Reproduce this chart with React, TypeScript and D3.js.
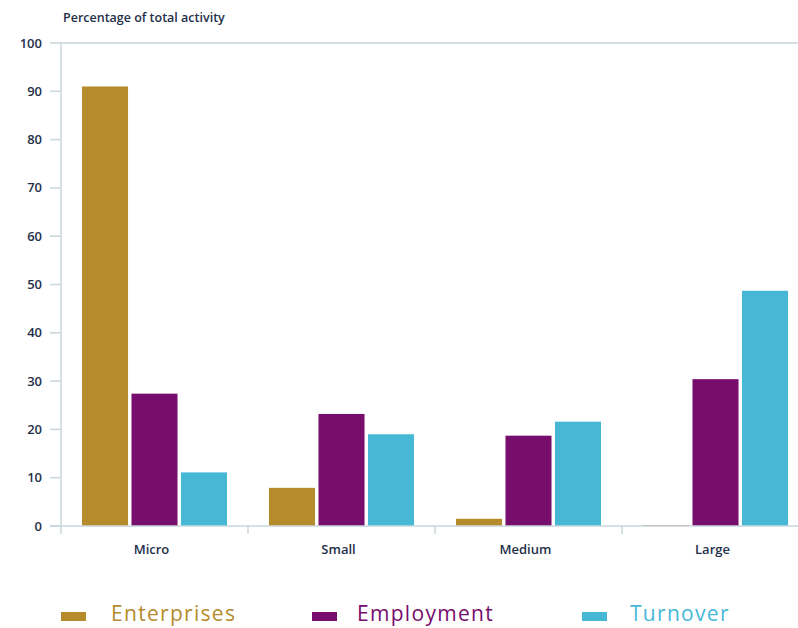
import React from "react";
import * as d3 from "d3";

const categories = ["Micro", "Small", "Medium", "Large"];
const seriesNames = ["Enterprises", "Employment", "Turnover"];
const enterprises = [91, 7.9, 1.5, 0.2];
const employment = [27.4, 23.2, 18.7, 30.4];
const turnover = [11.1, 19.0, 21.6, 48.7];
const yTicks = [0, 10, 20, 30, 40, 50, 60, 70, 80, 90, 100];
const colors = ["#b58b2c", "#770d6c", "#46b8d6"];

export default function App() {
  const W = 798, H = 628;
  const left = 61, right = 809, top = 43, bottom = 526;
  const series = [enterprises, employment, turnover];
  const x = d3.scaleBand<string>().domain(categories).range([left, right]);
  const inner = d3.scaleBand<string>().domain(seriesNames).range([21, x.bandwidth() - 21]).paddingInner(0.07);
  const y = d3.scaleLinear().domain([0, 100]).range([bottom, top]);
  const axisColor = "#c9d7de";
  const textColor = "#243049";
  const font = "'Open Sans', 'Noto Sans', sans-serif";
  const legendX = [61, 312, 582];
  const legendTextX = [111, 357, 630];
  return (
    <svg width={W} height={H} style={{ position: "absolute", left: 0, top: 0, background: "#fff" }} fontFamily={font}>
      <text x={63} y={22} fontSize={12.5} fontWeight={600} fill={textColor}>Percentage of total activity</text>
      <line x1={left} x2={W} y1={y(100)} y2={y(100)} stroke={axisColor} strokeWidth={1.5} />
      <line x1={left} x2={left} y1={top} y2={bottom + 8} stroke={axisColor} strokeWidth={1.5} />
      {yTicks.map(t => (
        <g key={t}>
          <line x1={50} x2={left} y1={y(t)} y2={y(t)} stroke={axisColor} strokeWidth={1.5} />
          <text x={42} y={y(t)} dy="0.35em" textAnchor="end" fontSize={13} fontWeight={600} fill={textColor}>{t}</text>
        </g>
      ))}
      {series.map((vals, si) =>
        categories.map((c, ci) => (
          <rect key={si + "-" + ci}
            x={(x(c) as number) + (inner(seriesNames[si]) as number)}
            y={y(vals[ci])}
            width={inner.bandwidth()}
            height={bottom - y(vals[ci])}
            fill={colors[si]} />
        ))
      )}
      <line x1={50} x2={W} y1={bottom} y2={bottom} stroke={axisColor} strokeWidth={1.5} />
      {categories.slice(1).map(c => (
        <line key={c} x1={x(c) as number} x2={x(c) as number} y1={bottom} y2={bottom + 8} stroke={axisColor} strokeWidth={1.5} />
      ))}
      {categories.map(c => (
        <text key={c} x={(x(c) as number) + x.bandwidth() / 2 - 3} y={554} textAnchor="middle" fontSize={13} fontWeight={600} fill={textColor}>{c}</text>
      ))}
      {seriesNames.map((s, i) => (
        <g key={s}>
          <rect x={legendX[i]} y={612} width={25} height={9} fill={colors[i]} />
          <text x={legendTextX[i]} y={621} fontSize={21} letterSpacing={1.3} fill={colors[i]}>{s}</text>
        </g>
      ))}
    </svg>
  );
}
